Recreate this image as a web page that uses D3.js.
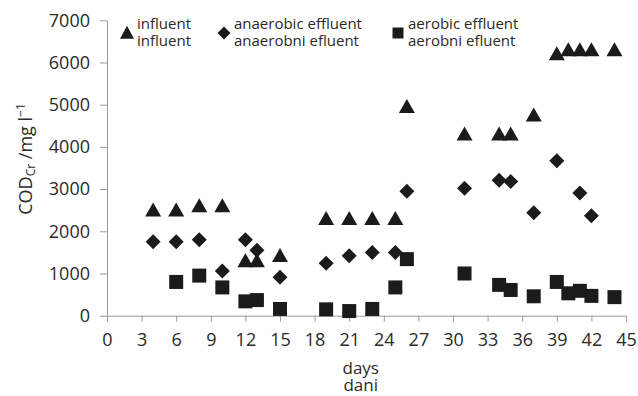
<!DOCTYPE html>
<html>
<head>
<meta charset="utf-8">
<script src="https://cdn.jsdelivr.net/npm/d3@7"></script>
<style>
  body { margin: 0; background: #fff; }
  .axis path, .axis line { stroke: #9a9a9a; }
  .axis text { font-family: "Open Sans", sans-serif; font-size: 18px; fill: #2a2a2a; }
</style>
</head>
<body>
<script>
// data
var influentDays   = [4, 6, 8, 10, 12, 13, 15, 19, 21, 23, 25, 26, 31, 34, 35, 37, 39, 40, 41, 42, 44];
var influentCOD    = [2500, 2500, 2600, 2600, 1300, 1300, 1420, 2300, 2300, 2300, 2300, 4950, 4300, 4300, 4300, 4750, 6200, 6300, 6300, 6300, 6300];

var anaerobicDays  = [4, 6, 8, 10, 12, 13, 15, 19, 21, 23, 25, 26, 31, 34, 35, 37, 39, 41, 42];
var anaerobicCOD   = [1750, 1750, 1800, 1060, 1800, 1550, 910, 1240, 1420, 1500, 1500, 2950, 3020, 3210, 3180, 2440, 3670, 2910, 2370];

var aerobicDays    = [6, 8, 10, 12, 13, 15, 19, 21, 23, 25, 26, 31, 34, 35, 37, 39, 40, 41, 42, 44];
var aerobicCOD     = [800, 950, 670, 340, 370, 160, 150, 110, 160, 670, 1340, 1000, 730, 610, 460, 800, 530, 590, 470, 440];

var xTicks = d3.range(0, 46, 3);
var yTicks = [0, 1000, 2000, 3000, 4000, 5000, 6000, 7000];

var seriesNames = [
  ["influent", "influent"],
  ["anaerobic effluent", "anaerobni efluent"],
  ["aerobic effluent", "aerobni efluent"]
];

var svgW = 638;
var svgH = 396;
var markColor = "#1b1b1b";

var svg = d3.select("body")
            .append("svg")
            .attr("width", svgW)
            .attr("height", svgH);

var xScale = d3.scaleLinear().domain([0, 45]).range([107, 626]);
var yScale = d3.scaleLinear().domain([0, 7000]).range([315.7, 20.3]);

// axes
var xAxis = d3.axisBottom(xScale)
              .tickValues(xTicks)
              .tickSizeInner(6)
              .tickSizeOuter(0)
              .tickPadding(7);

var yAxis = d3.axisLeft(yScale)
              .tickValues(yTicks)
              .tickFormat(d3.format("d"))
              .tickSizeInner(7)
              .tickSizeOuter(0)
              .tickPadding(10);

svg.append("g")
   .attr("class", "axis")
   .attr("transform", "translate(0," + yScale(0) + ")")
   .call(xAxis)
   .selectAll("text").attr("dy", "0.95em");

svg.append("g")
   .attr("class", "axis")
   .attr("transform", "translate(" + xScale(0) + ",0)")
   .call(yAxis);

// axis titles
svg.append("text")
   .attr("x", xScale(22))
   .attr("y", 374)
   .attr("text-anchor", "middle")
   .attr("font-family", "Open Sans, sans-serif")
   .attr("font-size", "17px")
   .attr("fill", "#2a2a2a")
   .text("days");

svg.append("text")
   .attr("x", xScale(22))
   .attr("y", 391)
   .attr("text-anchor", "middle")
   .attr("font-family", "Open Sans, sans-serif")
   .attr("font-size", "17px")
   .attr("fill", "#2a2a2a")
   .text("dani");

var yTitle = svg.append("text")
   .attr("transform", "translate(32,159) rotate(-90)")
   .attr("text-anchor", "middle")
   .attr("font-family", "Open Sans, sans-serif")
   .attr("font-size", "18px")
   .attr("fill", "#2a2a2a");
yTitle.append("tspan").text("COD");
yTitle.append("tspan").attr("font-size", "12px").attr("dy", "3").text("Cr");
yTitle.append("tspan").attr("dy", "-3").text(" /mg l");
yTitle.append("tspan").attr("font-size", "12px").attr("dy", "-7").text("\u22121");

// marker shapes (centred on the point)
function triPath(w, h) {
  var p = d3.path();
  p.moveTo(0, -h * 0.55);
  p.lineTo(w / 2, h * 0.45);
  p.lineTo(-w / 2, h * 0.45);
  p.closePath();
  return p.toString();
}
function diaPath(r) {
  var p = d3.path();
  p.moveTo(0, -r);
  p.lineTo(r, 0);
  p.lineTo(0, r);
  p.lineTo(-r, 0);
  p.closePath();
  return p.toString();
}
function sqPath(s) {
  var p = d3.path();
  p.rect(-s / 2, -s / 2, s, s);
  return p.toString();
}

function drawSeries(days, vals, shape) {
  svg.append("g")
     .selectAll("path")
     .data(days)
     .enter()
     .append("path")
     .attr("d", shape)
     .attr("transform", function (d, i) {
        return "translate(" + xScale(d) + "," + yScale(vals[i]) + ")";
     })
     .attr("fill", markColor);
}

drawSeries(influentDays, influentCOD, triPath(16, 14));
drawSeries(anaerobicDays, anaerobicCOD, diaPath(7.5));
drawSeries(aerobicDays, aerobicCOD, sqPath(14));

// legend
var legendX = [127, 224, 398];
var legendShapes = [triPath(14, 13), diaPath(6.5), sqPath(11)];
var legend = svg.append("g");

legend.selectAll("path")
      .data(legendShapes)
      .enter()
      .append("path")
      .attr("d", function (d) { return d; })
      .attr("transform", function (d, i) { return "translate(" + legendX[i] + ",33)"; })
      .attr("fill", markColor);

seriesNames.forEach(function (d, i) {
  legend.append("text")
        .attr("x", legendX[i] + 10)
        .attr("y", 29)
        .attr("font-family", "Open Sans, sans-serif")
        .attr("font-size", "15px")
        .attr("fill", "#2a2a2a")
        .text(d[0]);
  legend.append("text")
        .attr("x", legendX[i] + 10)
        .attr("y", 46)
        .attr("font-family", "Open Sans, sans-serif")
        .attr("font-size", "15px")
        .attr("fill", "#2a2a2a")
        .text(d[1]);
});
</script>
</body>
</html>
